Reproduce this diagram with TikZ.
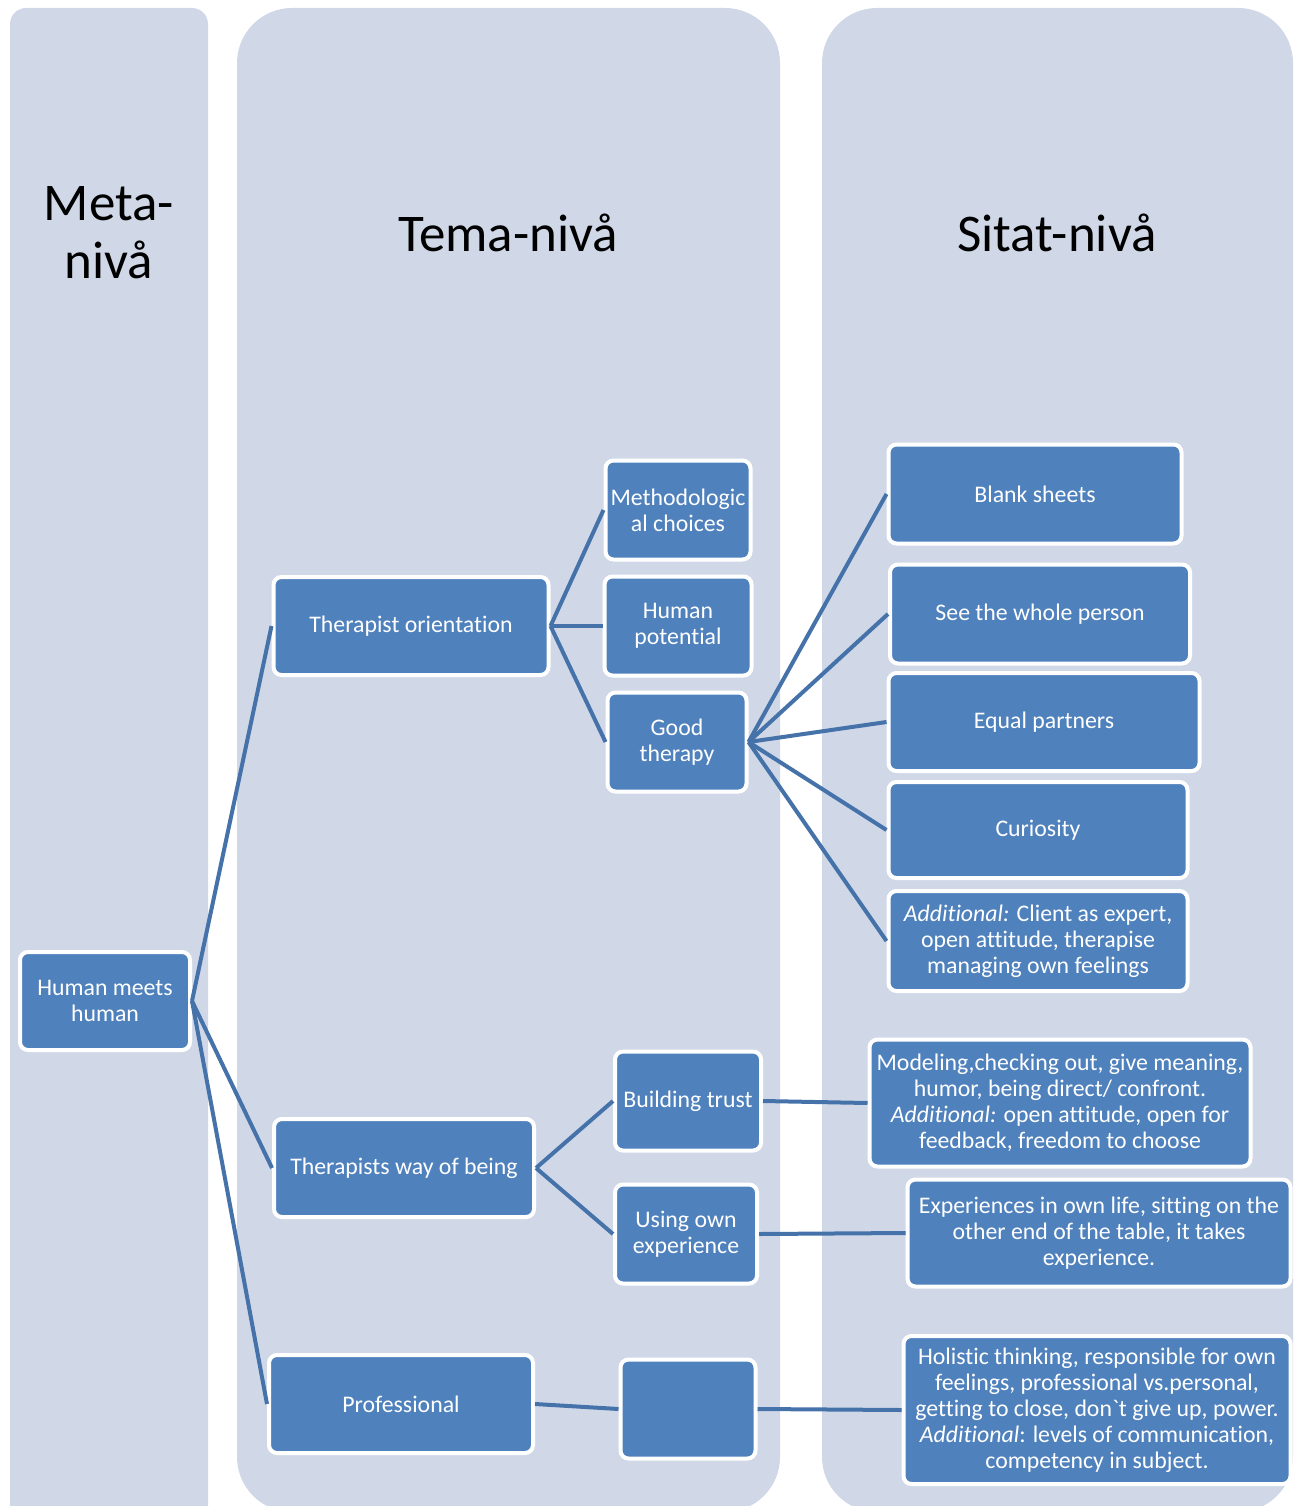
\documentclass[tikz,border=0pt]{standalone}
\usepackage{fontspec}
\setmainfont{Carlito}[RawFeature=-liga]
\definecolor{colbg}{HTML}{D0D8E8}
\definecolor{boxfill}{HTML}{4F81BD}
\definecolor{linkc}{HTML}{4672AA}
\begin{document}
\begin{tikzpicture}[x=1pt,y=-1pt,
  box/.style={draw=white, line width=4pt, fill=boxfill, rounded corners=8pt, text=white,
    align=center, inner sep=2pt, font=\fontsize{23.8}{26}\selectfont},
  link/.style={draw=linkc, line width=4pt},
  title/.style={font=\fontsize{53}{58}\selectfont, align=center, text=black}]
\useasboundingbox (0,0) rectangle (1296,1506);
% columns
\fill[colbg, rounded corners=16pt] (10,8) rectangle (208,1530);
\fill[colbg, rounded corners=55pt] (237,8) rectangle (780,1512);
\fill[colbg, rounded corners=55pt] (822,8) rectangle (1293,1512);
% titles
\node[title] (tmeta) at (109,233) {Meta-\\nivå};
\node[title] (ttema) at (508,233) {Tema-nivå};
\node[title] (tsitat) at (1057,233) {Sitat-nivå};
% nodes
\node[box, minimum width=170, minimum height=98] (hmh) at (105,1001) {Human meets\\human};
\node[box, minimum width=275, minimum height=98] (to) at (411,626) {Therapist orientation};
\node[box, minimum width=260, minimum height=98] (twb) at (404,1168) {Therapists way of being};
\node[box, minimum width=264, minimum height=98] (prof) at (401,1404) {Professional};
\node[box, minimum width=145, minimum height=99] (meth) at (678,510) {Methodologic\\al choices};
\node[box, minimum width=147, minimum height=99] (hp) at (678,626) {Human\\potential};
\node[box, minimum width=139, minimum height=99] (gt) at (677,742) {Good\\therapy};
\node[box, minimum width=146, minimum height=99] (bt) at (688,1101) {Building trust};
\node[box, minimum width=142, minimum height=99] (uoe) at (686,1234) {Using own\\experience};
\node[box, minimum width=135, minimum height=99] (empty) at (688,1409) {};
\node[box, minimum width=293, minimum height=99] (bs) at (1035,494) {Blank sheets};
\node[box, minimum width=300, minimum height=99] (swp) at (1040,614) {See the whole person};
\node[box, minimum width=311, minimum height=98] (ep) at (1044,722) {Equal partners};
\node[box, minimum width=299, minimum height=96] (cur) at (1038,830) {Curiosity};
\node[box, minimum width=299, minimum height=100] (add1) at (1038,941) {\textit{Additional:} Client as expert,\\open attitude, therapise\\managing own feelings};
\node[box, minimum width=381, minimum height=127] (mod) at (1060,1103) {Modeling,checking out, give meaning,\\humor, being direct/ confront.\\\textit{Additional:} open attitude, open for\\feedback, freedom to choose};
\node[box, minimum width=383, minimum height=107] (exp) at (1099,1233) {Experiences in own life, sitting on the\\other end of the table, it takes\\experience.};
\node[box, minimum width=387, minimum height=148] (hol) at (1097,1410) {Holistic thinking, responsible for own\\feelings, professional vs.personal,\\getting to close, don\textasciigrave t give up, power.\\\textit{Additional}: levels of communication,\\competency in subject.};
% connectors
\draw[link] (hmh.east) -- (to.west);
\draw[link] (hmh.east) -- (twb.west);
\draw[link] (hmh.east) -- (prof.west);
\draw[link] (to.east) -- (meth.west);
\draw[link] (to.east) -- (hp.west);
\draw[link] (to.east) -- (gt.west);
\draw[link] (gt.east) -- (bs.west);
\draw[link] (gt.east) -- (swp.west);
\draw[link] (gt.east) -- (ep.west);
\draw[link] (gt.east) -- (cur.west);
\draw[link] (gt.east) -- (add1.west);
\draw[link] (twb.east) -- (bt.west);
\draw[link] (twb.east) -- (uoe.west);
\draw[link] (bt.east) -- (mod.west);
\draw[link] (uoe.east) -- (exp.west);
\draw[link] (prof.east) -- (empty.west);
\draw[link] (empty.east) -- (hol.west);
\end{tikzpicture}
\end{document}
